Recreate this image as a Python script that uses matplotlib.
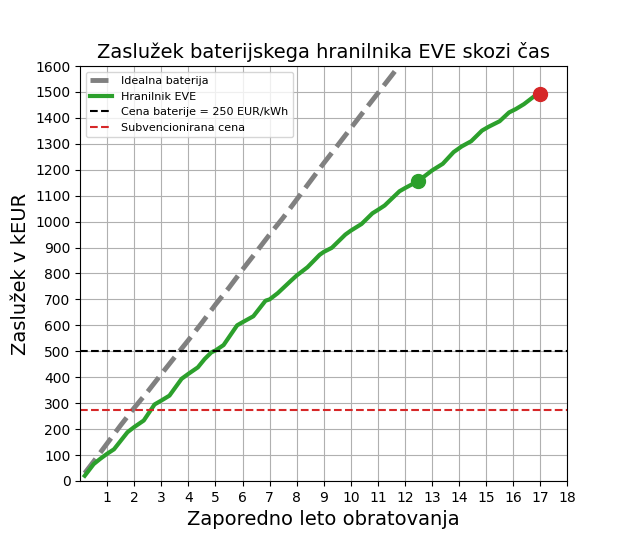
import numpy as np
import matplotlib
matplotlib.use("Agg")
import matplotlib.pyplot as plt

# ideal battery (kEUR) vs. year
ideal_x = [0.17, 0.5, 1.0, 1.5, 2.0, 2.5, 3.0, 3.5, 4.0, 4.5, 5.0, 5.5, 6.0, 6.5,
           7.0, 7.5, 8.0, 8.5, 9.0, 9.5, 10.0, 10.5, 11.0, 11.5, 12.0]
ideal_y = [30, 75, 145, 215, 282, 345, 412, 478, 543, 610, 680, 745, 815, 882,
           950, 1015, 1085, 1155, 1225, 1292, 1360, 1428, 1495, 1562, 1630]

# EVE storage (kEUR) vs. year
eve_x = [0.17, 0.5, 0.75, 1.0, 1.25, 1.5, 1.75, 2.0, 2.35, 2.75, 3.0, 3.3, 3.75,
         4.0, 4.35, 4.6, 4.85, 5.0, 5.3, 5.8, 6.0, 6.4, 6.85, 7.0, 7.3, 7.8, 8.0,
         8.4, 8.85, 9.0, 9.3, 9.8, 10.0, 10.4, 10.8, 11.0, 11.25, 11.8, 12.0, 12.5,
         13.0, 13.4, 13.8, 14.1, 14.45, 14.85, 15.1, 15.5, 15.85, 16.1, 16.4, 16.8, 17.0]
eve_y = [20, 65, 86, 105, 122, 155, 188, 208, 233, 295, 310, 329, 394,
         413, 438, 470, 496, 503, 524, 600, 612, 635, 695, 700, 724, 773, 792,
         824, 872, 883, 899, 950, 965, 991, 1032, 1045, 1062, 1117, 1129, 1157,
         1197, 1223, 1268, 1290, 1310, 1351, 1366, 1387, 1421, 1434, 1453, 1485, 1491]

battery_price = 500
subsidised_price = 275
mid_point = (12.5, 1157)
end_point = (17.0, 1491)

fig = plt.figure(figsize=(6.31, 5.41), dpi=100)
ax = fig.add_axes([0.127, 0.111, 0.772, 0.767])

ax.plot(ideal_x, ideal_y, color="gray", linestyle="--", linewidth=3.5, label="Idealna baterija")
ax.plot(eve_x, eve_y, color="tab:green", linewidth=3, label="Hranilnik EVE")
ax.axhline(battery_price, color="black", linestyle="--", linewidth=1.5,
           label="Cena baterije = 250 EUR/kWh")
ax.axhline(subsidised_price, color="tab:red", linestyle="--", linewidth=1.5,
           label="Subvencionirana cena")
ax.plot(*mid_point, "o", color="tab:green", markersize=10)
ax.plot(*end_point, "o", color="tab:red", markersize=10)

ax.set_xlim(0, 18)
ax.set_ylim(0, 1600)
ax.set_xticks(np.arange(1, 19))
ax.set_yticks(np.arange(0, 1601, 100))
ax.grid(True)

ax.set_title("Zaslužek baterijskega hranilnika EVE skozi čas", fontsize=14)
ax.set_xlabel("Zaporedno leto obratovanja", fontsize=14)
ax.set_ylabel("Zaslužek v kEUR", fontsize=14)
ax.legend(loc="upper left", fontsize=8)

fig.savefig("out.png", dpi=100)
